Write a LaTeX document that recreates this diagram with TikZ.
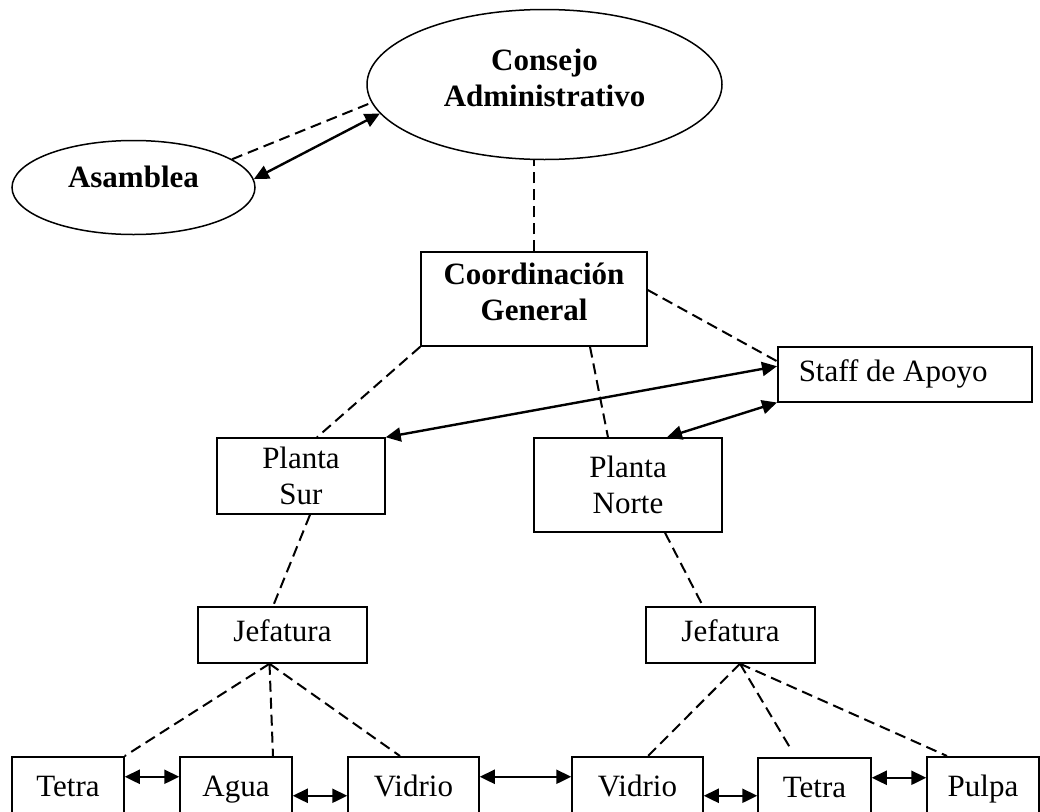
\documentclass[tikz,border=0pt]{standalone}
\usepackage{fontspec}
\setmainfont{Liberation Serif}
\usetikzlibrary{arrows.meta,shapes.geometric,calc}
\newcommand{\lowpad}{\rule[-14pt]{0pt}{0pt}}
\begin{document}
\begin{tikzpicture}[x=1pt,y=-1pt,
  box/.style={draw,line width=1.5pt,rectangle,inner sep=0pt,font=\fontsize{31}{36}\selectfont},
  oval/.style={draw,line width=1.5pt,ellipse,inner sep=0pt,font=\fontsize{31}{36}\selectfont\bfseries},
  single/.style={text height=21pt,text depth=8pt},
  bottombox/.style={box,single,minimum height=67pt,anchor=north},
  dashline/.style={line width=2pt,dash pattern=on 11pt off 6pt},
  biarrow/.style={line width=2.4pt,{Triangle[length=15pt,width=14pt]}-{Triangle[length=15pt,width=14pt]}}]
\useasboundingbox (0,0) rectangle (1040,811);
\fill[white] (0,0) rectangle (1040,811);

% nodes
\node[oval,align=center,minimum width=355pt,minimum height=150pt] (cons) at (544.5,84.5) {Consejo\\Administrativo\lowpad};
\node[oval,text height=21pt,text depth=22pt,minimum width=243pt,minimum height=94pt] (asam) at (133.5,187.5) {Asamblea};
\node[box,align=center,font=\fontsize{31}{36}\selectfont\bfseries,minimum width=226pt,minimum height=94pt] (coord) at (534,299) {Coordinación\\General\lowpad};
\node[box,anchor=north west,minimum width=254pt,minimum height=55pt,text width=212pt,inner xsep=21pt,align=flush left] (staff) at (777,346) {Staff de Apoyo};
\node[box,align=center,minimum width=168pt,minimum height=76pt] (psur) at (301,476) {Planta\\Sur};
\node[box,align=center,minimum width=188pt,minimum height=94pt] (pnorte) at (628,485) {Planta\\Norte};
\node[box,single,minimum width=169pt,minimum height=56pt] (jefL) at (282.5,635) {Jefatura};
\node[box,single,minimum width=169pt,minimum height=56pt] (jefR) at (730.5,635) {Jefatura};
\node[bottombox,minimum width=112pt] (tet1) at (68,756) {Tetra};
\node[bottombox,minimum width=112pt] (agua) at (236,756) {Agua};
\node[bottombox,minimum width=131pt] (vid1) at (413.5,756) {Vidrio};
\node[bottombox,minimum width=131pt] (vid2) at (637.5,756) {Vidrio};
\node[bottombox,minimum width=113pt] (tet2) at (814.5,757) {Tetra};
\node[bottombox,minimum width=112pt] (pulpa) at (983,756) {Pulpa};

% top connectors
\draw[dashline] (asam.16) -- (cons.186);
\draw[biarrow] (asam.4) -- (cons.190);
\draw[dashline] (coord.north) -- (coord.north |- cons.south);

% coordination connectors
\draw[dashline] (coord.south west) -- ([xshift=16pt]psur.north);
\draw[dashline] ([xshift=56pt]coord.south) -- ([xshift=-20pt]pnorte.north);
\draw[dashline] ([yshift=9pt]coord.east) -- ([yshift=13pt]staff.west);
\draw[biarrow] ([yshift=8pt]staff.west) -- (psur.north east);
\draw[biarrow] (staff.south west) -- ([xshift=39pt]pnorte.north);

% plants to jefaturas
\draw[dashline] ([xshift=9pt]psur.south) -- ([xshift=-9.5pt]jefL.north);
\draw[dashline] ([xshift=37pt]pnorte.south) -- ([xshift=-27.5pt]jefR.north);

% jefatura left
\draw[dashline] ([xshift=-13pt]jefL.south) -- (tet1.north east);
\draw[dashline] ([xshift=-13pt]jefL.south) -- ([xshift=37pt]agua.north);
\draw[dashline] ([xshift=-13pt]jefL.south) -- ([xshift=-13.5pt]vid1.north);

% jefatura right
\draw[dashline] ([xshift=9.5pt]jefR.south) -- ([xshift=10.5pt]vid2.north);
\draw[dashline] ([xshift=9.5pt]jefR.south) -- ([xshift=-22.5pt,yshift=6pt]tet2.north);
\draw[dashline] ([xshift=9.5pt]jefR.south) -- ([xshift=-36pt]pulpa.north);

% bottom row arrows
\draw[biarrow] ([yshift=13.5pt]tet1.east) -- ([yshift=13.5pt]agua.west);
\draw[biarrow] ([yshift=-5.5pt]agua.east) -- ([yshift=-5.5pt]vid1.west);
\draw[biarrow] ([yshift=13.5pt]vid1.east) -- ([yshift=13.5pt]vid2.west);
\draw[biarrow] ([yshift=-5.5pt]vid2.east) -- ([yshift=-4.5pt]tet2.west);
\draw[biarrow] ([yshift=13.5pt]tet2.east) -- ([yshift=12.5pt]pulpa.west);
\end{tikzpicture}
\end{document}
